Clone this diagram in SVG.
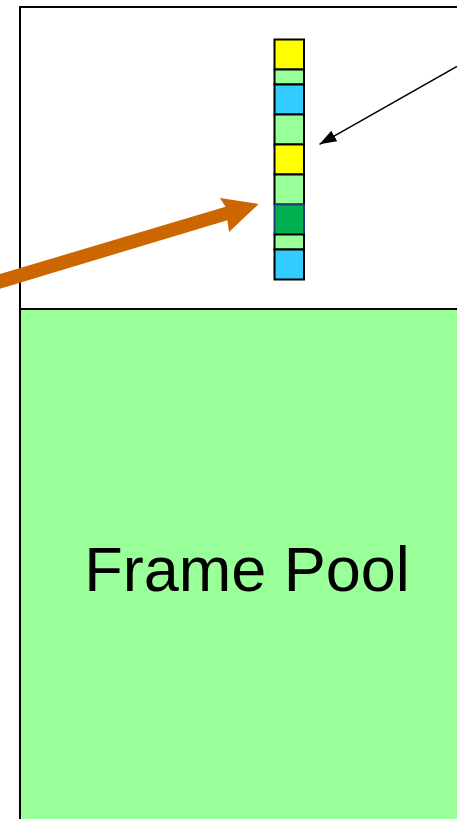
<svg xmlns="http://www.w3.org/2000/svg" width="457" height="819" viewBox="0 0 457 819">
<style>
.cell{stroke:#000;stroke-width:2}
.y{fill:#FFFF00}.g{fill:#99FF99}.b{fill:#33CCFF}.d{fill:#00B050;stroke:#1F3A7A}
.lbl{font-family:"Liberation Sans",Arial,sans-serif;font-size:63px;fill:#000}
</style>
<defs>
<marker id="ah" markerWidth="17" markerHeight="12" refX="17" refY="6" orient="auto" markerUnits="userSpaceOnUse">
<path d="M0,0 L17,6 L0,12 Z" fill="#000"/>
</marker>
</defs>
<g id="frame">
<rect x="20" y="7" width="450" height="302" fill="#fff" stroke="#000" stroke-width="2"/>
</g>
<g id="pool">
<rect x="20" y="309" width="450" height="520" fill="#99FF99" stroke="#000" stroke-width="2"/>
<text class="lbl" x="247" y="591" text-anchor="middle">Frame Pool</text>
</g>
<g id="stack">
<rect class="cell y" x="274.5" y="39.5" width="29.5" height="30"/>
<rect class="cell g" x="274.5" y="69.5" width="29.5" height="15"/>
<rect class="cell b" x="274.5" y="84.5" width="29.5" height="30"/>
<rect class="cell g" x="274.5" y="114.5" width="29.5" height="30"/>
<rect class="cell y" x="274.5" y="144.5" width="29.5" height="30"/>
<rect class="cell g" x="274.5" y="174.5" width="29.5" height="30"/>
<rect class="cell d" x="274.5" y="204.5" width="29.5" height="30"/>
<rect class="cell g" x="274.5" y="234.5" width="29.5" height="15"/>
<rect class="cell b" x="274.5" y="249.5" width="29.5" height="30"/>
</g>
<g id="connectors">
<polygon points="-5,275.5 225.5,206.8 220,198 258.7,204 229,232 227.4,220.2 -1,289" fill="#CC6600"/>
<line x1="457" y1="66.5" x2="319.5" y2="144.3" stroke="#000" stroke-width="1.5" marker-end="url(#ah)"/>
</g>
</svg>
